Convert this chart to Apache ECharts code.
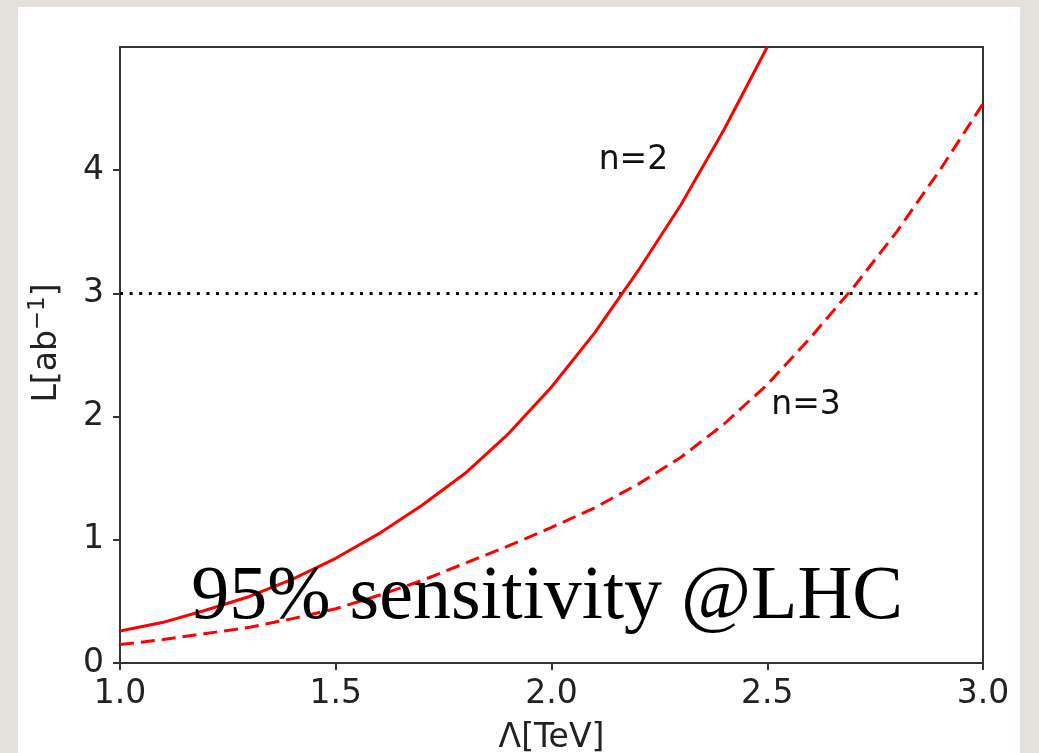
<!DOCTYPE html>
<html>
<head>
<meta charset="utf-8">
<script src="https://cdn.jsdelivr.net/npm/echarts@6/dist/echarts.min.js"></script>
<style>
  html, body { margin: 0; padding: 0; background: #e4e1dc; }
  #chart { width: 1039px; height: 753px; }
</style>
</head>
<body>
<div id="chart"></div>
<script>
// Λ in TeV, sampled every 0.1
var lambdaTeV = [1.0, 1.1, 1.2, 1.3, 1.4, 1.5, 1.6, 1.7, 1.8, 1.9, 2.0,
                 2.1, 2.2, 2.3, 2.4, 2.5, 2.6, 2.7, 2.8, 2.9, 3.0];
// required luminosity [ab^-1], n=2 leaves the frame at 2.5
var lumiN2 = [0.26, 0.33, 0.43, 0.54, 0.68, 0.85, 1.05, 1.28, 1.54, 1.86, 2.24,
              2.68, 3.18, 3.72, 4.33, 5.0];
var lumiN3 = [0.15, 0.19, 0.24, 0.29, 0.36, 0.44, 0.55, 0.67, 0.81, 0.95, 1.10,
              1.26, 1.45, 1.67, 1.94, 2.26, 2.64, 3.05, 3.50, 4.00, 4.54];
var refLumi = 3;
var xTicks = [1.0, 1.5, 2.0, 2.5, 3.0];
var yTicks = [0, 1, 2, 3, 4];

function pairs(xs, ys) {
    return ys.map(function (y, i) { return [xs[i], y]; });
}

var chart = echarts.init(document.getElementById('chart'));
var axisColor = '#333';
var font = 'DejaVu Sans';

chart.setOption({
    backgroundColor: '#e4e1dc',
    animation: false,
    grid: {
        left: 120, top: 47, right: 56, bottom: 90,
        outerBoundsMode: 'none', containLabel: false,
        show: true, borderColor: axisColor, borderWidth: 2, backgroundColor: '#fff'
    },
    xAxis: {
        type: 'value', min: xTicks[0], max: xTicks[xTicks.length - 1], interval: 0.5,
        name: 'Λ[TeV]', nameLocation: 'middle', nameGap: 59,
        nameTextStyle: {fontFamily: font, fontSize: 33, color: '#222'},
        axisLine: {lineStyle: {color: axisColor, width: 2}},
        axisTick: {length: 7, lineStyle: {color: axisColor, width: 2}},
        axisLabel: {
            fontFamily: font, fontSize: 33, color: '#222', margin: 15,
            formatter: function (v) { return v.toFixed(1); }
        },
        splitLine: {show: false}
    },
    yAxis: {
        type: 'value', min: yTicks[0], max: 5, interval: 1,
        name: 'L[ab{sup|−1}]', nameLocation: 'middle', nameGap: 53,
        nameTextStyle: {
            fontFamily: font, fontSize: 33, color: '#222', lineHeight: 40,
            padding: [0, 0, 0, 24],
            rich: {sup: {fontFamily: font, fontSize: 23, color: '#222', verticalAlign: 'top', lineHeight: 22}}
        },
        axisLine: {lineStyle: {color: axisColor, width: 2}},
        axisTick: {length: 7, lineStyle: {color: axisColor, width: 2}},
        axisLabel: {fontFamily: font, fontSize: 33, color: '#222', margin: 16, showMaxLabel: false},
        splitLine: {show: false}
    },
    series: [{
        name: 'n=2', type: 'line', showSymbol: false, clip: true,
        data: pairs(lambdaTeV, lumiN2),
        lineStyle: {color: '#ff0000', width: 3}
    }, {
        name: 'n=3', type: 'line', showSymbol: false, clip: true,
        data: pairs(lambdaTeV, lumiN3),
        lineStyle: {color: '#ff0000', width: 3, type: [14, 7]}
    }, {
        name: 'ref', type: 'line', showSymbol: false, z: 1,
        data: [[xTicks[0], refLumi], [xTicks[xTicks.length - 1], refLumi]],
        lineStyle: {color: '#000', width: 3, type: [3, 6.6]}
    }]
});

// annotations placed in data coordinates
function textAt(x, y, text, style) {
    var p = chart.convertToPixel({gridIndex: 0}, [x, y]);
    return {
        type: 'text', x: p[0], y: p[1], z: 100,
        style: Object.assign({text: text, fill: '#111', align: 'center', verticalAlign: 'middle'}, style)
    };
}

chart.setOption({
    graphic: [
        {type: 'rect', z: -10, silent: true, shape: {x: 18, y: 7, width: 1002, height: 760}, style: {fill: '#ffffff'}},
        textAt(2.19, 4.08, 'n=2', {font: '33px "DejaVu Sans"'}),
        textAt(2.59, 2.09, 'n=3', {font: '33px "DejaVu Sans"'}),
        textAt(1.99, 0.53, '95% sensitivity @LHC', {font: '76px "Liberation Serif"', fill: '#000'})
    ]
});
</script>
</body>
</html>
